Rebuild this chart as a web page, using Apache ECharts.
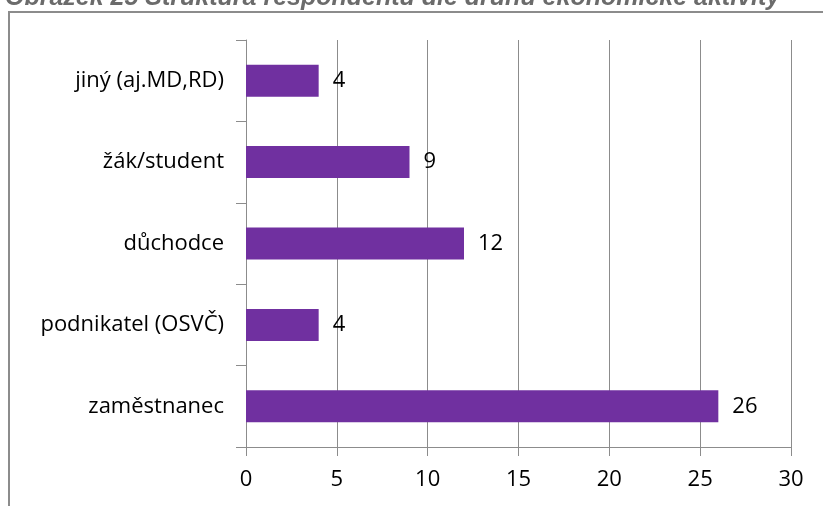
<!DOCTYPE html>
<html>
<head>
<meta charset="utf-8">
<script src="https://cdn.jsdelivr.net/npm/echarts@6/dist/echarts.min.js"></script>
<style>
html,body{margin:0;padding:0;background:#fff;}
#main{width:823px;height:506px;}
</style>
</head>
<body>
<div id="main"></div>
<script>
var categories=['zaměstnanec','podnikatel (OSVČ)','důchodce','žák/student','jiný (aj.MD,RD)'];
var values=[26,4,12,9,4];
var titleText='Obrázek 25 Struktura respondentů dle druhu ekonomické aktivity';

var myChart=echarts.init(document.getElementById('main'));
var option={
    animation:false,
    backgroundColor:'#fff',
    graphic:[
        {type:'rect',shape:{x:9,y:12,width:830,height:520},style:{fill:'none',stroke:'#8c8c8c',lineWidth:2},z:0},
        {type:'text',left:5,top:-14,style:{text:titleText,font:'italic bold 25px "Liberation Sans", Arial',fill:'#6b6b6b'},z:10}
    ],
    grid:{left:246,right:32,top:40,bottom:59},
    xAxis:{
        type:'value',min:0,max:30,interval:5,
        axisLine:{show:true,lineStyle:{color:'#8c8c8c'}},
        axisTick:{show:true,length:9,lineStyle:{color:'#8c8c8c'}},
        axisLabel:{color:'#000',fontSize:22,fontFamily:'"Open Sans"',margin:22},
        splitLine:{show:true,lineStyle:{color:'#8c8c8c',width:1}}
    },
    yAxis:{
        type:'category',data:categories,
        axisLine:{show:true,lineStyle:{color:'#8c8c8c'}},
        axisTick:{show:true,length:10,lineStyle:{color:'#8c8c8c'}},
        axisLabel:{color:'#000',fontSize:22,fontFamily:'"Open Sans"',margin:22}
    },
    series:[{
        type:'bar',data:values,barWidth:32,
        itemStyle:{color:'#7030A0'},
        label:{show:true,position:'right',distance:14,color:'#000',fontSize:22,fontFamily:'"Open Sans"'}
    }]
};
myChart.setOption(option);
</script>
</body>
</html>
